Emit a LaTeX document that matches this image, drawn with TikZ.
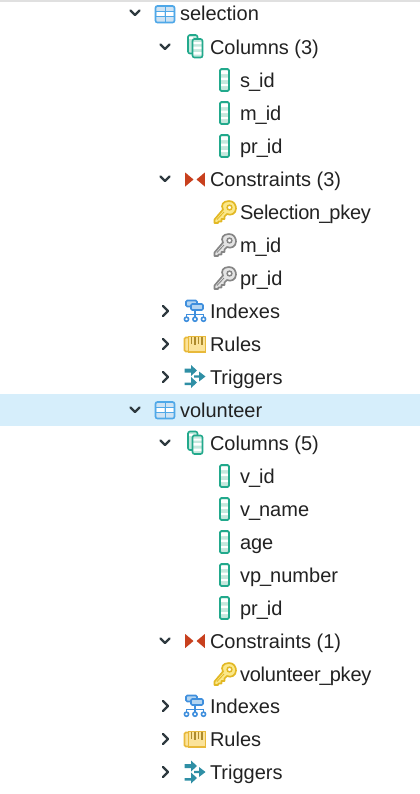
\documentclass[tikz,border=0pt]{standalone}
\usepackage{fontspec}
\setmainfont{Liberation Sans}
\definecolor{txt}{HTML}{222222}
\definecolor{chev}{HTML}{2F3A40}
\definecolor{tblue}{HTML}{4FA8E8}
\definecolor{tfill}{HTML}{CFE3F3}
\definecolor{teal}{HTML}{22A98C}
\definecolor{tealf}{HTML}{C5E8DD}
\definecolor{cred}{HTML}{C8401E}
\definecolor{gold}{HTML}{E2B824}
\definecolor{goldf}{HTML}{FBE88A}
\definecolor{kgrey}{HTML}{858585}
\definecolor{kgreyf}{HTML}{E4E4E4}
\definecolor{iblue}{HTML}{3F8FDD}
\definecolor{ifill}{HTML}{B4D5F1}
\definecolor{ryel}{HTML}{E8B93A}
\definecolor{ryelf}{HTML}{FBE39A}
\definecolor{trig}{HTML}{2F8FA5}
\definecolor{band}{HTML}{D6EEFB}
\newcommand{\us}{\kern-0.7pt\_\kern-0.8pt}
\tikzset{
  lbl/.style={anchor=base west,inner sep=0pt,outer sep=0pt,text=txt,font=\fontsize{15}{18}\selectfont},
  chevline/.style={draw=chev,line width=1.7pt,line cap=round,line join=round},
  tableicon/.pic={
    \fill[tfill,rounded corners=1pt] (-10,-9) rectangle (10,8.5);
    \fill[white] (-8.5,-3) rectangle (-1,1.5) (1,-3) rectangle (8.5,1.5);
    \draw[tblue,line width=0.7pt] (-9,-3.5)--(9,-3.5) (-9,2)--(9,2) (0,-8)--(0,8);
    \draw[tblue,line width=1.25pt,rounded corners=1.5pt] (-9.5,-8.5) rectangle (9.5,8);
  },
  columnicon/.pic={
    \fill[tealf] (-4.5,-11) rectangle (4.5,11);
    \fill[white] (-3.5,-9.5) rectangle (3.5,-6) (-3.5,-2.5) rectangle (3.5,0) (-3.5,4) rectangle (3.5,6);
    \draw[teal,line width=1.3pt,rounded corners=1pt] (-4.5,-11) rectangle (4.5,11);
  },
  columnsicon/.pic={
    \draw[teal,line width=1.2pt,fill=tealf,rounded corners=1.5pt] (-7.5,-11.5) rectangle (2,7);
    \fill[white] (-7,-9.5) rectangle (-3,-7.5);
    \fill[tealf] (-3,-7) rectangle (7,11);
    \fill[white] (-2.5,-4.5) rectangle (6.5,-2.5) (-2.5,0) rectangle (6.5,2.5) (-2.5,5.5) rectangle (6.5,8);
    \draw[teal,line width=1.2pt,rounded corners=1.5pt] (-3,-7.5) rectangle (7,11);
  },
  constricon/.pic={
    \fill[cred] (-9.8,-7) -- (-1.5,0) -- (-9.8,7) -- cycle;
    \fill[cred] (9.8,-7) -- (1.5,0) -- (9.8,7) -- cycle;
  },
  keyshape/.pic={
    \draw[pic actions,line width=1.25pt,line join=round]
      (-10.5,11) -- (-10.5,7.5) -- (-2,-2.5) .. controls (-4.5,-7) and (-2,-11) .. (4,-11)
      .. controls (9,-11) and (11,-7) .. (11,-3.5)
      .. controls (11,1.5) and (6,4) .. (2,2)
      -- (-0.5,4.5) -- (-0.5,7) -- (-3.5,7) -- (-3.5,9.5) -- (-6.5,9.5) -- (-7,11) -- cycle;
    \draw[pic actions,fill=white,line width=1.1pt] (4.5,-4.5) circle (2.4);
    \draw[pic actions,fill=none,line width=0.6pt] (-8,7.5) -- (-1,0);
  },
  indexicon/.pic={
    \draw[iblue,line width=1.2pt] (0,-3) -- (0,3.5) (-8.5,7) -- (-8.5,3.5) -- (8.5,3.5) -- (8.5,7) (0,3.5) -- (0,7);
    \draw[iblue,line width=1.2pt,fill=ifill,rounded corners=1pt] (-9,-10.5) rectangle (2,-4.5);
    \draw[iblue,line width=1.2pt,fill=ifill,rounded corners=1pt] (-4,-7) rectangle (8,-1);
    \foreach \q in {-8.5,0,8.5}{\draw[iblue,line width=1.2pt,fill=white] (\q,8.2) circle (2.1);}
  },
  rulesicon/.pic={
    \fill[ryelf,draw=ryel,line width=1.2pt,rounded corners=1pt] (-10.5,-6.5) rectangle (8,7.5);
    \fill[ryelf,draw=ryel,line width=1.3pt] (-6.5,-7.5) rectangle (10.5,8);
    \draw[ryel!75!black,line width=1pt] (-3.5,-7) -- (-3.5,0) (0,-7) -- (0,1) (3.5,-7) -- (3.5,0) (7,-7) -- (7,1);
  },
  triggericon/.pic={
    \fill[trig] (-10.5,-8) -- (-4,-8) -- (-4,-11.5) -- (2,-6) -- (-4,-0.5) -- (-4,-4) -- (-10.5,-4) -- cycle;
    \fill[trig] (-10.5,6) -- (-4,6) -- (-4,0.5) -- (2,6) -- (-4,11.5) -- (-4,8.5) -- (-10.5,8.5) -- cycle;
    \fill[trig] (-1,-1.2) -- (4,-1.2) -- (4,-5) -- (10.5,0) -- (4,5) -- (4,1.2) -- (-1,1.2) -- cycle;
  },
}
\newcommand{\chevdown}[2]{\draw[chevline] (#1-4.5,#2-2.5) -- (#1,#2+2) -- (#1+4.5,#2-2.5);}
\newcommand{\chevright}[2]{\draw[chevline] (#1-2,#2-5) -- (#1+3,#2) -- (#1-2,#2+5);}
\newcommand{\rowlabel}[4]{\node[lbl] (#1) at (#2,#3+7) {#4};}
\begin{document}
\begin{tikzpicture}[x=0.75pt,y=-0.75pt]
\useasboundingbox (0,0) rectangle (420,794);
\fill[white] (0,0) rectangle (420,794);
\fill[black!12] (0,0) rectangle (420,1.5);
\fill[band] (0,394) rectangle (420,426);
% selection
\chevdown{135}{13}
\pic at (165,14.5) {tableicon};
\rowlabel{n1}{180}{13}{selection}
\chevdown{165}{47}
\pic at (195.5,46.5) {columnsicon};
\rowlabel{n2}{210}{47}{Columns (3)}
\pic at (224.5,80) {columnicon};
\rowlabel{n3}{240}{80}{s\us id}
\pic at (224.5,113) {columnicon};
\rowlabel{n4}{240}{113}{m\us id}
\pic at (224.5,146) {columnicon};
\rowlabel{n5}{240}{146}{pr\us id}
\chevdown{165}{179}
\pic at (195,179.5) {constricon};
\rowlabel{n6}{210}{179}{Constraints (3)}
\pic[draw=gold,fill=goldf] at (225,212) {keyshape};
\rowlabel{n7}{240}{212}{\addfontfeatures{LetterSpace=-1.2}Selection\us pkey}
\pic[draw=kgrey,fill=kgreyf] at (225,245) {keyshape};
\rowlabel{n8}{240}{245}{m\us id}
\pic[draw=kgrey,fill=kgreyf] at (225,278) {keyshape};
\rowlabel{n9}{240}{278}{pr\us id}
\chevright{165}{311}
\pic at (195,311) {indexicon};
\rowlabel{n10}{210}{311}{Indexes}
\chevright{165}{344}
\pic at (195,344) {rulesicon};
\rowlabel{n11}{210}{344}{Rules}
\chevright{165}{377}
\pic at (195,376.5) {triggericon};
\rowlabel{n12}{210}{377}{Triggers}
% volunteer
\chevdown{135}{410}
\pic at (165,410.5) {tableicon};
\rowlabel{n13}{180}{410}{volunteer}
\chevdown{165}{443}
\pic at (195.5,443) {columnsicon};
\rowlabel{n14}{210}{443}{Columns (5)}
\pic at (224.5,476) {columnicon};
\rowlabel{n15}{240}{476}{v\us id}
\pic at (224.5,509) {columnicon};
\rowlabel{n16}{240}{509}{v\us name}
\pic at (224.5,542) {columnicon};
\rowlabel{n17}{240}{542}{age}
\pic at (224.5,575) {columnicon};
\rowlabel{n18}{240}{575}{vp\us number}
\pic at (224.5,608) {columnicon};
\rowlabel{n19}{240}{608}{pr\us id}
\chevdown{165}{641}
\pic at (195,641) {constricon};
\rowlabel{n20}{210}{641}{Constraints (1)}
\pic[draw=gold,fill=goldf] at (225,674) {keyshape};
\rowlabel{n21}{240}{674}{\addfontfeatures{LetterSpace=-1.0}volunteer\us pkey}
\chevright{165}{706}
\pic at (195,706) {indexicon};
\rowlabel{n22}{210}{706}{Indexes}
\chevright{165}{739}
\pic at (195,739) {rulesicon};
\rowlabel{n23}{210}{739}{Rules}
\chevright{165}{772}
\pic at (195,772) {triggericon};
\rowlabel{n24}{210}{772}{Triggers}
\end{tikzpicture}
\end{document}
